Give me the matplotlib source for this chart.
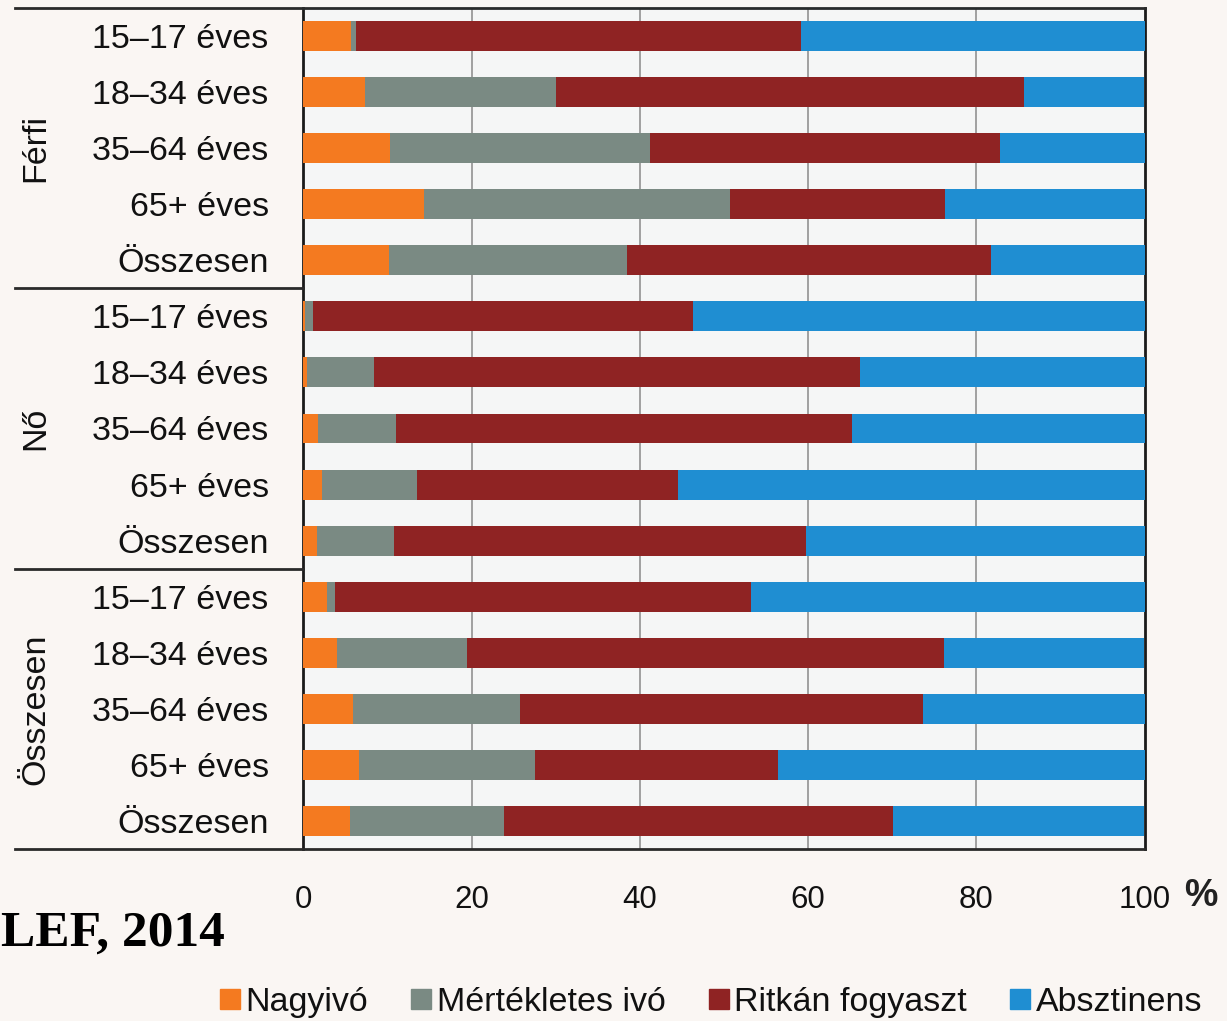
import matplotlib
matplotlib.use("Agg")
import matplotlib.pyplot as plt
from matplotlib.lines import Line2D
import numpy as np

# ---- data ----
groups = ["Férfi", "Nő", "Összesen"]
ages = ["15–17 éves", "18–34 éves", "35–64 éves", "65+ éves", "Összesen"]
series_names = ["Nagyivó", "Mértékletes ivó", "Ritkán fogyaszt", "Absztinens"]

nagyivo = [5.7, 7.3, 10.3, 14.3, 10.2,
           0.2, 0.4, 1.7, 2.2, 1.6,
           2.8, 4.0, 5.9, 6.6, 5.5]
mertekletes = [0.5, 22.7, 30.9, 36.4, 28.3,
               0.9, 8.0, 9.3, 11.3, 9.2,
               1.0, 15.4, 19.8, 20.9, 18.3]
ritkan = [53.0, 55.7, 41.6, 25.6, 43.2,
          45.2, 57.8, 54.2, 31.0, 49.0,
          49.4, 56.8, 48.0, 28.9, 46.3]
absztinens = [40.8, 14.3, 17.2, 23.7, 18.3,
              53.7, 33.8, 34.8, 55.5, 40.2,
              46.8, 23.8, 26.3, 43.6, 29.9]

x_ticks = [0, 20, 40, 60, 80, 100]
source_text = "LEF, 2014"

colors = ["#f47a20", "#7a8a83", "#8f2323", "#1f8ed2"]

# ---- figure ----
W, H = 1227, 1021
fig = plt.figure(figsize=(W / 100, H / 100), dpi=100, facecolor="#faf6f3")
ax_left, ax_right = 303.4 / W, 1144.5 / W
ax_top, ax_bot = 1 - 8 / H, 1 - 849 / H
ax = fig.add_axes([ax_left, ax_bot, ax_right - ax_left, ax_top - ax_bot])
ax.set_facecolor("#f5f6f6")

font = "Liberation Sans"
fs = 24.5

row_labels = ages * len(groups)
y = np.arange(len(row_labels))
left = np.zeros(len(row_labels))
for vals, col, name in zip([nagyivo, mertekletes, ritkan, absztinens], colors, series_names):
    ax.barh(y, vals, left=left, height=0.535, color=col, label=name, zorder=3)
    left += np.array(vals)

ax.set_xlim(0, 100)
ax.set_ylim(len(row_labels) - 0.5, -0.5)
ax.set_yticks(y)
ax.set_yticklabels(row_labels, fontsize=fs, family=font)
ax.set_xticks(x_ticks)
ax.set_xticklabels([str(t) for t in x_ticks], fontsize=22.5, family=font)
ax.tick_params(axis="y", length=0, pad=25)
ax.tick_params(axis="x", length=0, pad=26)
for lab in ax.get_yticklabels() + ax.get_xticklabels():
    lab.set_color("#111111")

for xv in x_ticks[1:-1]:
    ax.axvline(xv, color="#9a9a9a", lw=1.3, zorder=1)

for s in ["top", "bottom"]:
    ax.spines[s].set_visible(False)
for s in ["left", "right"]:
    ax.spines[s].set_color("#1a1a1a")
    ax.spines[s].set_linewidth(2)

# frame lines extending into label area
line_col = "#2a2a2a"
x0 = 15 / W
fig.add_artist(Line2D([x0, ax_right], [ax_top, ax_top], color=line_col, lw=2))
fig.add_artist(Line2D([x0, ax_right], [ax_bot, ax_bot], color=line_col, lw=2))
to_fig = fig.transFigure.inverted()
for sep in [4.5, 9.5]:
    ydisp = ax.transData.transform((0, sep))[1]
    yfig = to_fig.transform((0, ydisp))[1]
    fig.add_artist(Line2D([x0, ax_left], [yfig, yfig], color=line_col, lw=2))

# group labels
for gi, g in enumerate(groups):
    yc = gi * len(ages) + (len(ages) - 1) / 2
    ydisp = ax.transData.transform((0, yc))[1]
    yfig = to_fig.transform((0, ydisp))[1]
    fig.text(36 / W, yfig, g, rotation=90, ha="center", va="center",
             fontsize=fs, family=font, color="#111111")

# % sign
fig.text(1201 / W, 1 - 896 / H, "%", ha="center", va="center",
         fontsize=27, family=font, fontweight="bold", color="#222222")

# source
fig.text(1 / W, 1 - 934 / H, source_text, ha="left", va="center",
         fontsize=37, family="Liberation Serif", fontweight="bold", color="black")

# legend
handles = [Line2D([], [], marker="s", linestyle="none", markersize=14,
                  markerfacecolor=c, markeredgecolor=c) for c in colors]
leg = fig.legend(handles, series_names, loc="center", bbox_to_anchor=(711 / W, 1 - 1002 / H),
                 ncol=4, frameon=False, handlelength=0.6, handletextpad=0.15,
                 columnspacing=1.27, prop={"family": font, "size": fs})
for t in leg.get_texts():
    t.set_color("#111111")

fig.savefig("out.png", dpi=100, facecolor=fig.get_facecolor())
